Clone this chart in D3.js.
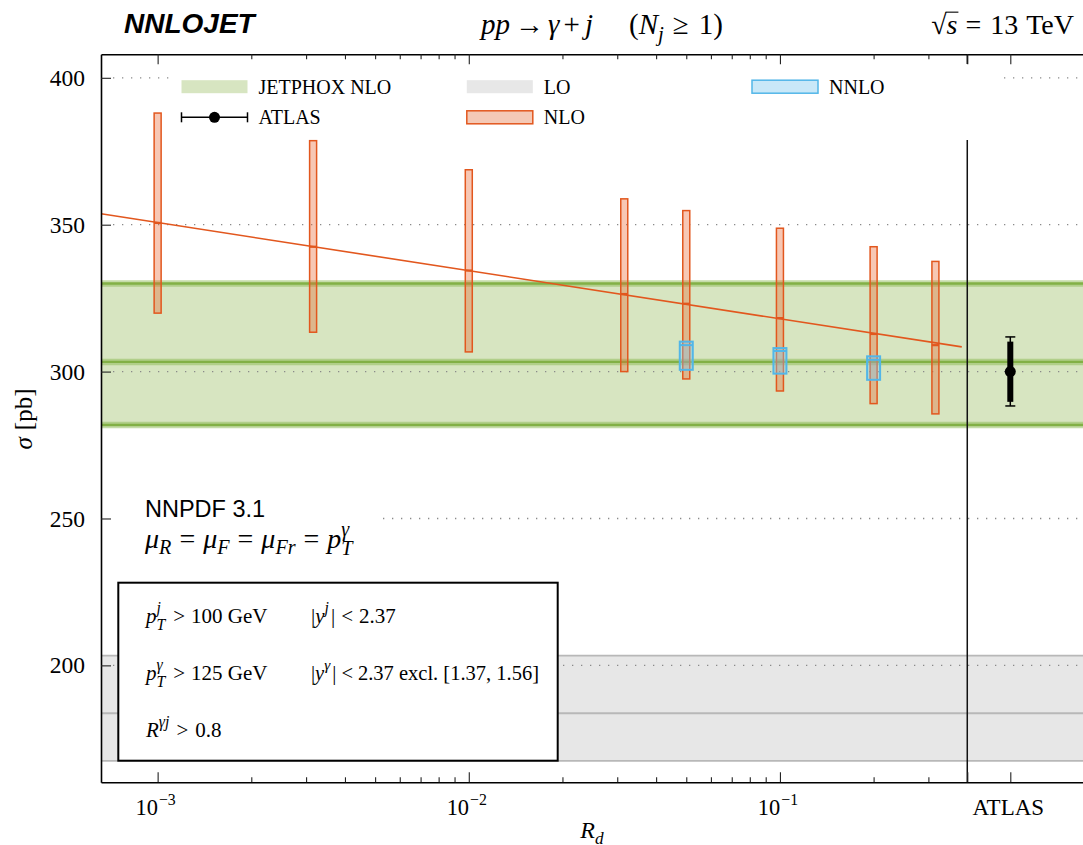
<!DOCTYPE html>
<html><head><meta charset="utf-8">
<script src="https://cdn.jsdelivr.net/npm/d3@7"></script>
<style>body{margin:0;background:#fff}svg{display:block}</style>
</head><body>
<svg id="c" width="1083" height="845"></svg>
<script>
// ---------------- data ----------------
const rdValues   = [0.001, 0.00316, 0.01, 0.0316, 0.05, 0.1, 0.2, 0.316];
const nloCentral = [350.6, 342.5, 334.4, 326.4, 323.1, 318.2, 312.8, 309.0];
const nloHigh    = [388.0, 378.6, 368.7, 358.8, 354.8, 348.8, 342.5, 337.5];
const nloLow     = [319.9, 313.4, 306.7, 300.0, 297.5, 293.4, 289.1, 285.6];
const rdNNLO      = [0.05, 0.1, 0.2];
const nnloCentral = [309.0, 307.0, 304.0];
const nnloHigh    = [310.2, 308.0, 305.2];
const nnloLow     = [300.6, 299.3, 297.2];
const fitX = [0.000658, 0.384];
const fitY = [353.7, 308.4];
const jetphoxBand = [281.8, 303.3, 330.0];   // low, central, high
const loBand      = [167.5, 183.7, 203.3];
const atlasValue = 300.0;
const atlasInner = [289.7, 310.2];
const atlasTotal = [288.3, 311.8];
const atlasPos = 0.55;        // pseudo R_d position of the ATLAS column
const dividerPos = 0.4;
const yTickValues = [200, 250, 300, 350, 400];
const xMajorTicks = [0.001, 0.01, 0.1];
const xTickExp = ["−3", "−2", "−1"];
const legendLabels = ["JETPHOX NLO", "LO", "NNLO", "ATLAS", "NLO"];

// ---------------- setup ----------------
const svg = d3.select('#c');
const SERIF = 'Liberation Serif', SANS = 'Liberation Sans';
const L = 101, R = 1083, T = 54.3, B = 782.3;
const x = d3.scaleLog().domain([Math.pow(10, -3.182), Math.pow(10, -0.026)]).range([L, R]);
const y = d3.scaleLinear().domain([160.2, 408]).range([B, T]);

const orange = '#e2571e', orangeFill = 'rgba(232,100,48,0.36)';
const blue = '#52b6e8', blueFill = 'rgba(130,200,240,0.38)';
const greenFill = '#d7e5c1', greenLine = '#82b046', greenHalo = 'rgba(140,186,84,0.5)';
const loFill = '#e7e7e7', loLine = '#b8b8b8';

function rich(parent, px, py, segs, opts) {
  const g = parent.append('g');
  const base = opts.size, fam = opts.family || SERIF;
  let cx = 0, prevX = 0;
  segs.forEach(s => {
    const sx = s.o ? prevX : cx + (s.dx || 0);
    const t = g.append('text').attr('x', sx).attr('y', s.dy || 0)
      .attr('font-family', s.f || fam).attr('font-size', base * (s.k || 1))
      .attr('font-style', s.i ? 'italic' : 'normal')
      .attr('font-weight', s.b ? 'bold' : 'normal')
      .attr('fill', '#000').text(s.t);
    const w = t.node().getComputedTextLength();
    if (s.over) {
      g.append('line').attr('x1', sx - 1).attr('x2', sx + w + 1)
        .attr('y1', -base * 0.78).attr('y2', -base * 0.78)
        .attr('stroke', '#000').attr('stroke-width', 1.1);
    }
    if (s.o) cx = Math.max(cx, sx + w); else cx = sx + w;
    prevX = sx;
  });
  const a = opts.anchor || 'start';
  const off = a === 'middle' ? -cx / 2 : a === 'end' ? -cx : 0;
  g.attr('transform', `translate(${px + off},${py})`);
  return g;
}
const NB = '\u00a0';

// ---------------- bands ----------------
function band(vals, fill, line, halo, lw, hw) {
  svg.append('rect').attr('x', L).attr('width', R - L)
    .attr('y', y(vals[2])).attr('height', y(vals[0]) - y(vals[2])).attr('fill', fill);
  vals.forEach(v => {
    if (halo) svg.append('line').attr('x1', L).attr('x2', R).attr('y1', y(v)).attr('y2', y(v))
      .attr('stroke', halo).attr('stroke-width', hw);
    svg.append('line').attr('x1', L).attr('x2', R).attr('y1', y(v)).attr('y2', y(v))
      .attr('stroke', line).attr('stroke-width', lw);
  });
}
band(loBand, loFill, loLine, null, 1.8, 0);
band(jetphoxBand, greenFill, greenLine, greenHalo, 2.4, 6.5);

// ---------------- grid ----------------
svg.append('g').selectAll('line').data(yTickValues).join('line')
  .attr('x1', L + 12).attr('x2', R).attr('y1', d => y(d)).attr('y2', d => y(d))
  .attr('stroke', '#8a8a8a').attr('stroke-width', 1.3).attr('stroke-dasharray', '1.3,7.7');

// divider
svg.append('line').attr('x1', x(dividerPos)).attr('x2', x(dividerPos)).attr('y1', T).attr('y2', B)
  .attr('stroke', '#111').attr('stroke-width', 1.5);

// white backgrounds
svg.append('rect').attr('x', 172).attr('y', 64).attr('width', 826).attr('height', 76).attr('fill', '#fff');
svg.append('rect').attr('x', 113).attr('y', 490).attr('width', 270).attr('height', 76).attr('fill', '#fff');
svg.append('rect').attr('x', 118.3).attr('y', 582.7).attr('width', 439.4).attr('height', 178)
  .attr('fill', '#fff').attr('stroke', '#000').attr('stroke-width', 2);

// ---------------- NLO bars ----------------
const nloW = 7;
const gN = svg.append('g');
gN.selectAll('rect').data(rdValues).join('rect')
  .attr('x', d => x(d) - nloW / 2).attr('width', nloW)
  .attr('y', (d, i) => y(nloHigh[i])).attr('height', (d, i) => y(nloLow[i]) - y(nloHigh[i]))
  .attr('fill', orangeFill).attr('stroke', orange).attr('stroke-width', 1.5);
gN.selectAll('line').data(rdValues).join('line')
  .attr('x1', d => x(d) - nloW / 2).attr('x2', d => x(d) + nloW / 2)
  .attr('y1', (d, i) => y(nloCentral[i])).attr('y2', (d, i) => y(nloCentral[i]))
  .attr('stroke', orange).attr('stroke-width', 2.2);

// fit line
svg.append('path').datum(fitX.map((v, i) => [v, fitY[i]]))
  .attr('d', d3.line().x(d => x(d[0])).y(d => y(d[1])))
  .attr('fill', 'none').attr('stroke', orange).attr('stroke-width', 1.6);

// ---------------- NNLO bars ----------------
const nnW = 13;
const gNN = svg.append('g');
gNN.selectAll('rect').data(rdNNLO).join('rect')
  .attr('x', d => x(d) - nnW / 2).attr('width', nnW)
  .attr('y', (d, i) => y(nnloHigh[i])).attr('height', (d, i) => y(nnloLow[i]) - y(nnloHigh[i]))
  .attr('fill', blueFill).attr('stroke', blue).attr('stroke-width', 2);
gNN.selectAll('line').data(rdNNLO).join('line')
  .attr('x1', d => x(d) - nnW / 2).attr('x2', d => x(d) + nnW / 2)
  .attr('y1', (d, i) => y(nnloCentral[i])).attr('y2', (d, i) => y(nnloCentral[i]))
  .attr('stroke', blue).attr('stroke-width', 2);

// ---------------- ATLAS ----------------
const ax = x(atlasPos);
const gA = svg.append('g');
gA.append('line').attr('x1', ax).attr('x2', ax).attr('y1', y(atlasTotal[0])).attr('y2', y(atlasTotal[1]))
  .attr('stroke', '#000').attr('stroke-width', 1.5);
atlasTotal.forEach(v => gA.append('line').attr('x1', ax - 5).attr('x2', ax + 5)
  .attr('y1', y(v)).attr('y2', y(v)).attr('stroke', '#000').attr('stroke-width', 1.5));
gA.append('line').attr('x1', ax).attr('x2', ax).attr('y1', y(atlasInner[0])).attr('y2', y(atlasInner[1]))
  .attr('stroke', '#000').attr('stroke-width', 6);
gA.append('circle').attr('cx', ax).attr('cy', y(atlasValue)).attr('r', 5.5).attr('fill', '#000');

// ---------------- axes ----------------
const minorTicks = [];
[-3, -2, -1].forEach(e => { for (let k = 2; k <= 9; k++) { const v = k * Math.pow(10, e); if (v < dividerPos - 1e-9) minorTicks.push(v); } });
const majorAll = xMajorTicks.concat([dividerPos, atlasPos]);

function styleAxis(g) {
  g.selectAll('.tick line').attr('stroke', '#222').attr('stroke-width', 1.1);
  g.select('.domain').attr('stroke', '#000').attr('stroke-width', 1.6);
}
const gTop = svg.append('g').attr('transform', `translate(0,${T})`)
  .call(d3.axisTop(x).tickValues(majorAll).tickSizeInner(-10).tickSizeOuter(0).tickFormat(''));
styleAxis(gTop);
svg.append('g').attr('transform', `translate(0,${T})`)
  .call(d3.axisTop(x).tickValues(minorTicks).tickSizeInner(-5).tickSizeOuter(0).tickFormat(''))
  .call(g => { g.select('.domain').remove(); g.selectAll('.tick line').attr('stroke', '#222').attr('stroke-width', 1.1); });
const gBot = svg.append('g').attr('transform', `translate(0,${B})`)
  .call(d3.axisBottom(x).tickValues(majorAll).tickSizeInner(-10).tickSizeOuter(0).tickFormat(''));
styleAxis(gBot);
svg.append('g').attr('transform', `translate(0,${B})`)
  .call(d3.axisBottom(x).tickValues(minorTicks).tickSizeInner(-5).tickSizeOuter(0).tickFormat(''))
  .call(g => { g.select('.domain').remove(); g.selectAll('.tick line').attr('stroke', '#222').attr('stroke-width', 1.1); });
const gLeft = svg.append('g').attr('transform', `translate(${L},0)`)
  .call(d3.axisLeft(y).tickValues(yTickValues).tickSizeInner(-10).tickSizeOuter(0).tickPadding(16).tickFormat(d3.format('d')));
styleAxis(gLeft);
gLeft.selectAll('.tick text').attr('font-family', SERIF).attr('font-size', 23.5).attr('fill', '#000').attr('dy', '0.32em');

// x tick labels
xMajorTicks.forEach((v, i) => rich(svg, x(v) - 2, 815, [{ t: '10', k: 1.02 }, { t: xTickExp[i], k: 0.72, dy: -10, dx: 1 }], { size: 22, anchor: 'middle' }));
svg.append('text').attr('x', ax - 2).attr('y', 815).attr('text-anchor', 'middle')
  .attr('font-family', SERIF).attr('font-size', 23).text('ATLAS');

// axis titles
rich(svg, 592, 838, [{ t: 'R', i: 1 }, { t: 'd', i: 1, k: 0.72, dy: 6 }], { size: 24, anchor: 'middle' });
const ylab = svg.append('g').attr('transform', 'translate(32,419) rotate(-90)');
rich(ylab, 0, 0, [{ t: 'σ', i: 1 }, { t: '[pb]', dx: 7 }], { size: 25, anchor: 'middle' });

// ---------------- header ----------------
svg.append('text').attr('x', 124).attr('y', 33).attr('font-family', SANS).attr('font-size', 28)
  .attr('font-weight', 'bold').attr('font-style', 'italic').text('NNLOJET');
rich(svg, 602, 34, [
  { t: 'pp', i: 1 }, { t: '→', dx: 5 }, { t: 'γ', i: 1, dx: 4 }, { t: '+', dx: 4 }, { t: 'j', i: 1, dx: 5 },
  { t: '(', dx: 36 }, { t: 'N', i: 1 }, { t: 'j', i: 1, k: 0.72, dy: 7 }, { t: '≥', dx: 9 }, { t: '1)', dx: 10 }
], { size: 29, anchor: 'middle' });
rich(svg, 1074, 34, [{ t: '√', dx: 0 }, { t: 's', i: 1, over: true }, { t: '=', dx: 8 }, { t: '13', dx: 9 }, { t: 'TeV', dx: 8 }], { size: 28, anchor: 'end' });

// ---------------- legend ----------------
const colX = [181.5, 466.8, 752], rowY = [86.7, 117.3], swW = 66, swH = 13;
const leg = svg.append('g');
function swatch(c, r, fill, stroke) {
  leg.append('rect').attr('x', colX[c]).attr('y', rowY[r] - swH / 2).attr('width', swW).attr('height', swH)
    .attr('fill', fill).attr('stroke', stroke || 'none').attr('stroke-width', 1.5);
}
function legText(c, r, txt) {
  leg.append('text').attr('x', colX[c] + 77).attr('y', rowY[r] + 7).attr('font-family', SERIF)
    .attr('font-size', 20).text(txt);
}
swatch(0, 0, greenFill); legText(0, 0, legendLabels[0]);
swatch(1, 0, loFill); legText(1, 0, legendLabels[1]);
swatch(2, 0, '#c9e8f8', blue); legText(2, 0, legendLabels[2]);
leg.append('line').attr('x1', colX[0]).attr('x2', colX[0] + swW).attr('y1', rowY[1]).attr('y2', rowY[1]).attr('stroke', '#000').attr('stroke-width', 1.5);
[colX[0], colX[0] + swW].forEach(xx => leg.append('line').attr('x1', xx).attr('x2', xx)
  .attr('y1', rowY[1] - 5).attr('y2', rowY[1] + 5).attr('stroke', '#000').attr('stroke-width', 1.5));
leg.append('circle').attr('cx', colX[0] + swW / 2).attr('cy', rowY[1]).attr('r', 5.5).attr('fill', '#000');
legText(0, 1, legendLabels[3]);
swatch(1, 1, '#f4c9b6', orange); legText(1, 1, legendLabels[4]);

// ---------------- annotations ----------------
svg.append('text').attr('x', 145).attr('y', 517).attr('font-family', SANS).attr('font-size', 23.5).text('NNPDF 3.1');
rich(svg, 145, 548, [
  { t: 'μ', i: 1 }, { t: 'R', i: 1, k: 0.72, dy: 6 }, { t: '=', dx: 8 },
  { t: 'μ', i: 1, dx: 8 }, { t: 'F', i: 1, k: 0.72, dy: 6 }, { t: '=', dx: 8 },
  { t: 'μ', i: 1, dx: 8 }, { t: 'Fr', i: 1, k: 0.72, dy: 6 }, { t: '=', dx: 8 },
  { t: 'p', i: 1, dx: 8 }, { t: 'γ', i: 1, k: 0.72, dy: -12 }, { t: 'T', i: 1, k: 0.72, dy: 7, o: true }
], { size: 28 });

const sub = { k: 0.75, dy: 7 }, sup = { k: 0.75, dy: -10 };
rich(svg, 146, 623, [{ t: 'p', i: 1 }, Object.assign({ t: 'j', i: 1 }, sup), Object.assign({ t: 'T', i: 1, o: true }, sub),
  { t: '>', dx: 8 }, { t: '100', dx: 6 }, { t: NB + 'GeV' }], { size: 21 });
rich(svg, 311, 623, [{ t: '|' }, { t: 'y', i: 1 }, Object.assign({ t: 'j', i: 1 }, sup), { t: '|', dx: 2 },
  { t: '<', dx: 6 }, { t: '2.37', dx: 6 }], { size: 21 });
rich(svg, 146, 680, [{ t: 'p', i: 1 }, Object.assign({ t: 'γ', i: 1 }, sup), Object.assign({ t: 'T', i: 1, o: true }, sub),
  { t: '>', dx: 8 }, { t: '125', dx: 6 }, { t: NB + 'GeV' }], { size: 21 });
rich(svg, 311, 680, [{ t: '|' }, { t: 'y', i: 1 }, Object.assign({ t: 'γ', i: 1 }, sup), { t: '|', dx: 2 },
  { t: '<', dx: 5 }, { t: '2.37 excl. [1.37, 1.56]', dx: 5 }], { size: 20.5 });
rich(svg, 146, 737, [{ t: 'R', i: 1 }, Object.assign({ t: 'γj', i: 1 }, sup), { t: '>', dx: 7 }, { t: '0.8', dx: 7 }], { size: 21 });
</script>
</body></html>
